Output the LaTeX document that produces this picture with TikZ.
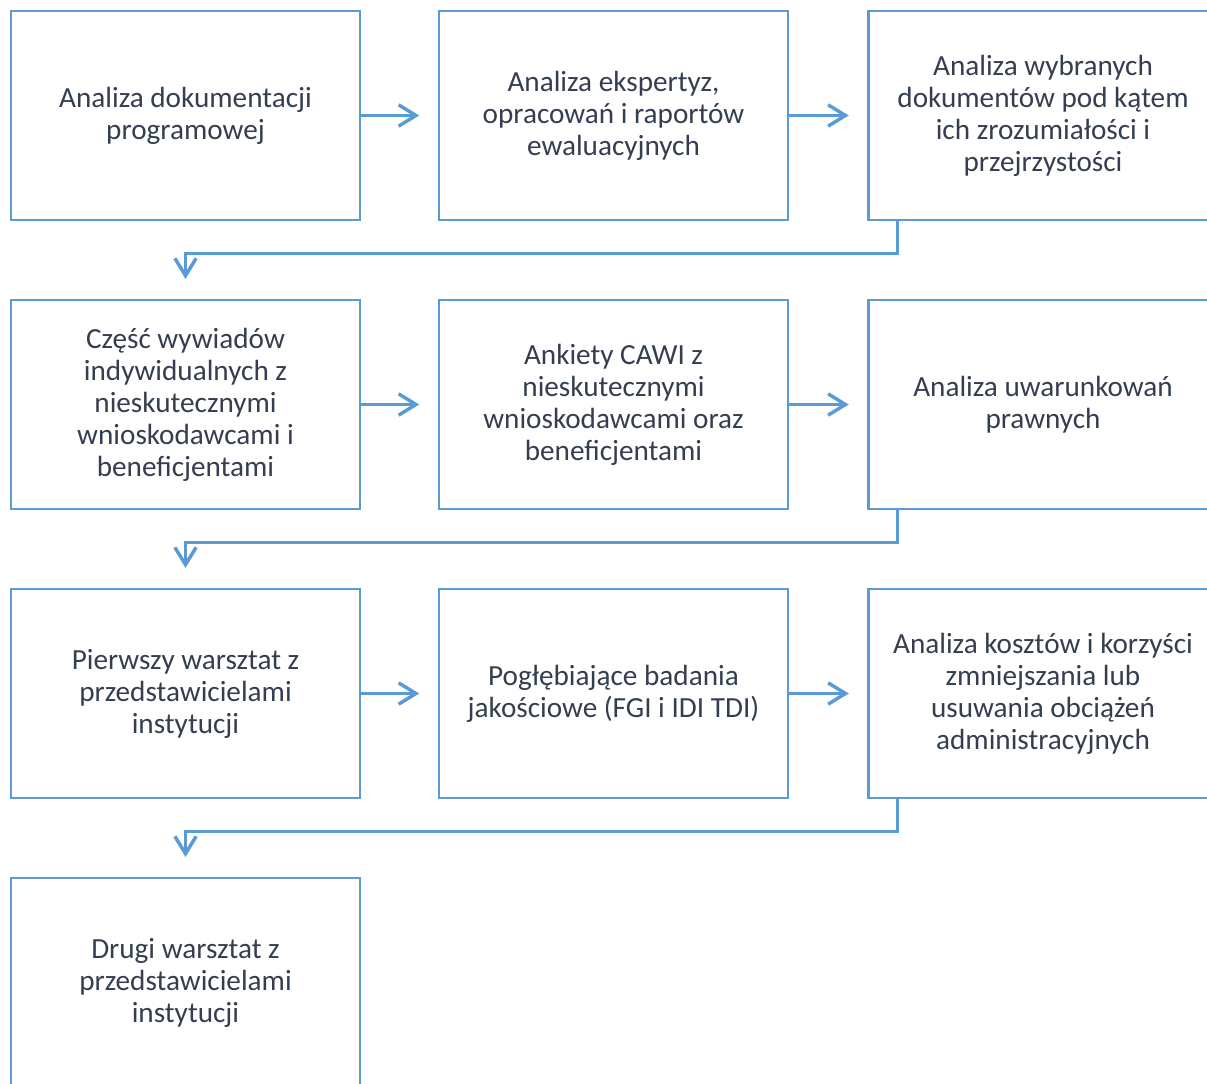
\documentclass[tikz,border=0pt]{standalone}
\usepackage{fontspec}
\setmainfont{Carlito}
\usetikzlibrary{arrows.meta,positioning}
\definecolor{boxblue}{HTML}{5B9BD5}
\definecolor{txt}{HTML}{333F50}
\tikzset{
  stepbox/.style={draw=boxblue, line width=1.6pt, rectangle, minimum width=261.75pt, minimum height=156.75pt, inner sep=0pt, align=center, text=txt, font=\fontsize{21.9}{24}\selectfont},
  conn/.style={draw=boxblue, line width=2.6pt, -{Straight Barb[length=13pt,width=16pt,line width=2.6pt]}, line cap=butt},
}
\begin{document}
\begin{tikzpicture}[x=0.75pt,y=-0.75pt]
\useasboundingbox (0,0) rectangle (1207,1084);
\clip (0,0) rectangle (1207,1084);
% row 1
\node[stepbox] (a1) at (185.5,115.5) {Analiza dokumentacji\\programowej};
\node[stepbox] (a2) at (613.5,115.5) {Analiza ekspertyz,\\opracowań i raportów\\ewaluacyjnych};
\node[stepbox] (a3) at (1043,115.5) {Analiza wybranych\\dokumentów pod kątem\\ich zrozumiałości i\\przejrzystości};
% row 2
\node[stepbox] (b1) at (185.5,404.5) {Część wywiadów\\indywidualnych z\\nieskutecznymi\\wnioskodawcami i\\beneficjentami};
\node[stepbox] (b2) at (613.5,404.5) {Ankiety CAWI z\\nieskutecznymi\\wnioskodawcami oraz\\beneficjentami};
\node[stepbox] (b3) at (1043,404.5) {Analiza uwarunkowań\\prawnych};
% row 3
\node[stepbox] (c1) at (185.5,693.5) {Pierwszy warsztat z\\przedstawicielami\\instytucji};
\node[stepbox] (c2) at (613.5,693.5) {Pogłębiające badania\\jakościowe (FGI i IDI TDI)};
\node[stepbox] (c3) at (1043,693.5) {Analiza kosztów i korzyści\\zmniejszania lub\\usuwania obciążeń\\administracyjnych};
% row 4
\node[stepbox] (d1) at (185.5,982.5) {Drugi warsztat z\\przedstawicielami\\instytucji};
% horizontal arrows
\foreach \p/\q in {a1/a2,a2/a3,b1/b2,b2/b3,c1/c2,c2/c3}{
  \draw[conn, shorten >=14pt] (\p.east) -- (\q.west);
}
% elbow arrows
\draw[conn, shorten >=15pt] ([xshift=22.5pt]a3.south west) -- ++(0,32.5) -| (b1.north);
\draw[conn, shorten >=15pt] ([xshift=22.5pt]b3.south west) -- ++(0,32.5) -| (c1.north);
\draw[conn, shorten >=15pt] ([xshift=22.5pt]c3.south west) -- ++(0,32.5) -| (d1.north);
\end{tikzpicture}
\end{document}
